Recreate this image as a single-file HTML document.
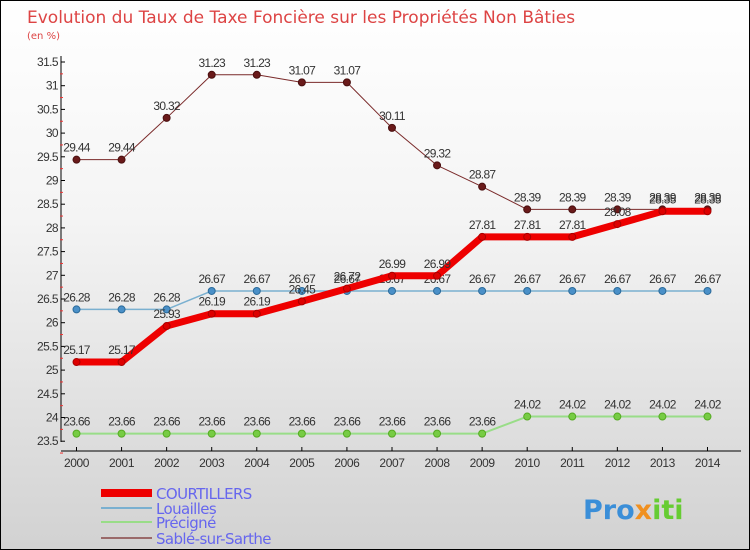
<!DOCTYPE html>
<html><head><meta charset="utf-8"><style>
body{margin:0;}
#c{width:748px;height:548px;border:1px solid #000;background:linear-gradient(#fff,#f4f4f4 40%,#d2d2d2);position:relative;overflow:hidden;font-family:"DejaVu Sans","Liberation Sans",sans-serif;}
</style></head><body>
<div id="c">
<svg id="s" width="748" height="548">
<text x="26" y="22" font-size="17" fill="#d44" letter-spacing="0">Evolution du Taux de Taxe Foncière sur les Propriétés Non Bâties</text>
<text x="26" y="38" font-size="10" fill="#d44">(en %)</text>
<g id="axes"></g><g id="series"></g><g id="legend"></g>
<text x="582" y="518" font-size="27" font-weight="bold" fill="#3a8ed8">Pro<tspan fill="#f09020">x</tspan><tspan fill="#6c3">iti</tspan></text>
</svg></div>
<script>
const years=[2000,2001,2002,2003,2004,2005,2006,2007,2008,2009,2010,2011,2012,2013,2014];
const yTicks=[23.5,24,24.5,25,25.5,26,26.5,27,27.5,28,28.5,29,29.5,30,30.5,31,31.5];
const courtillers=[25.17,25.17,25.93,26.19,26.19,26.45,26.72,26.99,26.99,27.81,27.81,27.81,28.08,28.35,28.35];
const louailles=[26.28,26.28,26.28,26.67,26.67,26.67,26.67,26.67,26.67,26.67,26.67,26.67,26.67,26.67,26.67];
const precigne=[23.66,23.66,23.66,23.66,23.66,23.66,23.66,23.66,23.66,23.66,24.02,24.02,24.02,24.02,24.02];
const sable=[29.44,29.44,30.32,31.23,31.23,31.07,31.07,30.11,29.32,28.87,28.39,28.39,28.39,28.39,28.39];
const seriesNames=["COURTILLERS","Louailles","Précigné","Sablé-sur-Sarthe"];
const NS="http://www.w3.org/2000/svg";
const X=i=>75.5+i*45.07, Y=v=>61+(31.5-v)*47.4;
function mk(t,a,p){const e=document.createElementNS(NS,t);for(const k in a)e.setAttribute(k,a[k]);p.appendChild(e);return e;}
const ax=document.getElementById('axes'),sg=document.getElementById('series'),lg=document.getElementById('legend');
let e=mk('line',{x1:60,y1:55,x2:60,y2:441,stroke:'#000'},ax);

e=mk('line',{x1:60,y1:450,x2:740,y2:450,stroke:'#000'},ax);

yTicks.forEach((v,i)=>{mk('line',{x1:60,y1:Y(v),x2:64,y2:Y(v),stroke:'#000'},ax);
 mk('line',{x1:59,y1:Y(v)+11.85,x2:62,y2:Y(v)+11.85,stroke:'#e33'},ax);
 const t=mk('text',{x:57,y:Y(v)+4,'font-size':12,'font-family':'Liberation Sans, sans-serif','text-anchor':'end',fill:'#333','letter-spacing':'-0.6'},ax);t.textContent=v;
 });
years.forEach((y,i)=>{mk('line',{x1:X(i),y1:446,x2:X(i),y2:450,stroke:'#000'},ax);
 const t=mk('text',{x:X(i),y:466,'font-size':12,'font-family':'Liberation Sans, sans-serif','text-anchor':'middle',fill:'#333','letter-spacing':'-0.4'},ax);t.textContent=y;
 });
function draw(vals,col,w,dot,dotStroke,name){
 const g=mk('g',{},sg);
 mk('polyline',{points:vals.map((v,i)=>X(i)+','+Y(v)).join(' '),fill:'none',stroke:col,'stroke-width':w,'stroke-linejoin':'round'},g);
 vals.forEach((v,i)=>{const c=mk('circle',{cx:X(i),cy:Y(v),r:3.5,fill:dot,stroke:dotStroke,'stroke-width':1},g);
  
  const t=mk('text',{x:X(i),y:Y(v)-8,'font-size':12,'font-family':'Liberation Sans, sans-serif','text-anchor':'middle',fill:'#333','letter-spacing':'-0.7'},g);t.textContent=v;
  });
}
draw(precigne,'#9d8',2,'#7c4','#5a2','series-precigne');
draw(louailles,'#7ab0d0',1.5,'#4a90c8','#2a6a9a','series-louailles');
draw(sable,'#7a2a2a',1,'#6a1a1a','#4a1010','series-sable');
draw(courtillers,'#e00',7,'#d00','#a00','series-courtillers');
const cols=['#e00','#7ab0d0','#9d8','#9a6a6a'],ws=[8,2,2,2],ly=[492,507,521,537];
seriesNames.forEach((n,i)=>{mk('line',{x1:100,y1:ly[i],x2:151,y2:ly[i],stroke:cols[i],'stroke-width':ws[i]},lg);
 const t=mk('text',{x:155,y:ly[i]+6,'font-size':15,fill:'#66e','letter-spacing':'-0.6'},lg);t.textContent=n;
 });
</script></body></html>
